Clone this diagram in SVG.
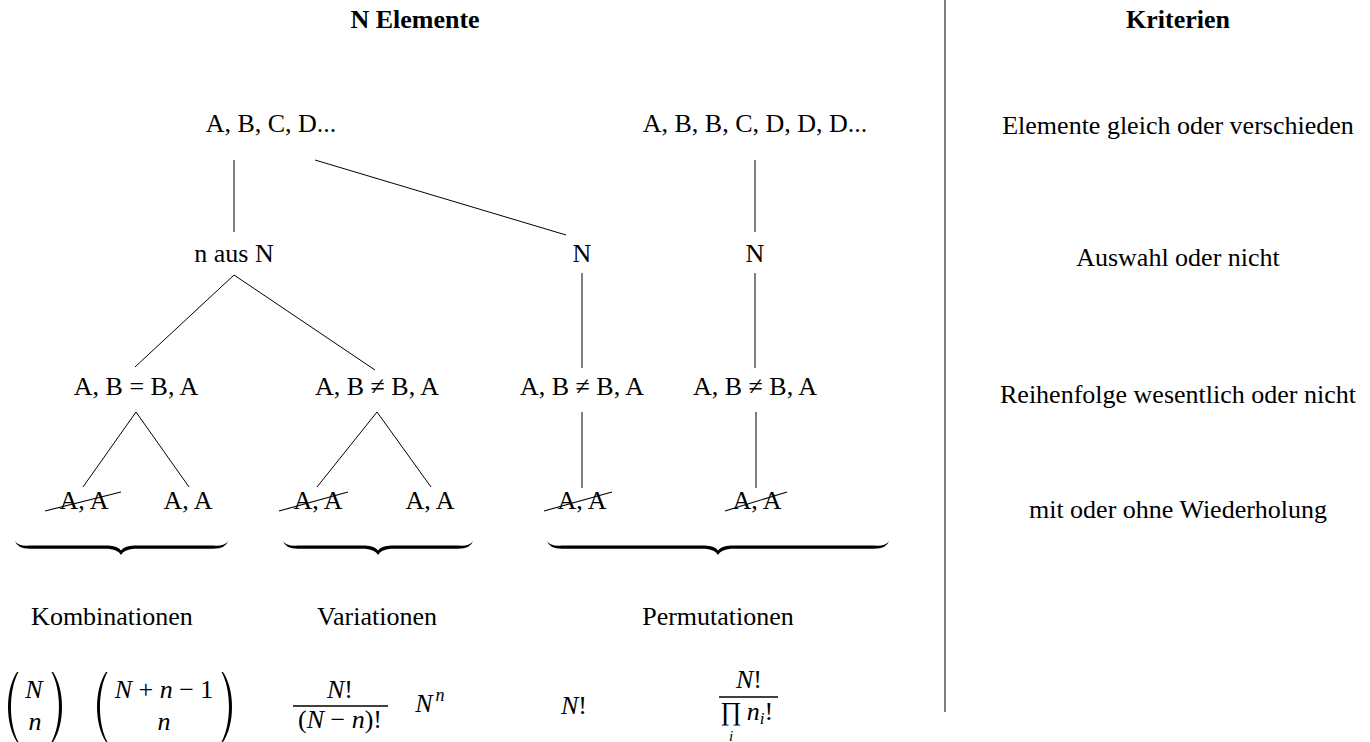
<svg xmlns="http://www.w3.org/2000/svg" width="1370" height="742" viewBox="0 0 1370 742">
<style>
text{font-family:"Liberation Serif","DejaVu Serif",serif;font-size:26px;fill:#000;text-anchor:middle}
.b{font-weight:bold}
.i{font-style:italic}
.m{font-size:26px}
.sup{font-size:18px;font-style:italic}
.sub{font-size:17px;font-style:italic}
line,.ln{stroke:#000;stroke-width:1;fill:none}
.strike{stroke:#000;stroke-width:1.1}
.brace,.paren{fill:#000;stroke:none}
.bar{stroke:#000;stroke-width:1.6}
</style>
<rect width="1370" height="742" fill="#fff"/>
<g id="divider"><line x1="945" y1="0" x2="945" y2="712"/></g>
<g id="titles">
<text class="b" x="415" y="28">N Elemente</text>
<text class="b" x="1178" y="28">Kriterien</text>
</g>
<g id="criteria">
<text x="1178" y="134">Elemente gleich oder verschieden</text>
<text x="1178" y="266">Auswahl oder nicht</text>
<text x="1178" y="403">Reihenfolge wesentlich oder nicht</text>
<text x="1178" y="518">mit oder ohne Wiederholung</text>
</g>
<g id="connectors">
<line x1="234" y1="160" x2="234" y2="232"/>
<line x1="315" y1="160" x2="566" y2="235"/>
<line x1="755" y1="160" x2="755" y2="232"/>
<line x1="234" y1="275" x2="135" y2="367"/>
<line x1="234" y1="275" x2="375" y2="370"/>
<line x1="582" y1="273" x2="582" y2="368"/>
<line x1="755" y1="273" x2="755" y2="368"/>
<line x1="136" y1="412" x2="83" y2="487"/>
<line x1="136" y1="412" x2="189" y2="487"/>
<line x1="377" y1="412" x2="317" y2="487"/>
<line x1="377" y1="412" x2="431" y2="487"/>
<line x1="582" y1="412" x2="582" y2="488"/>
<line x1="756" y1="412" x2="756" y2="488"/>
</g>
<g id="n-root1"><text x="271" y="132">A, B, C, D...</text></g>
<g id="n-root2"><text x="755" y="132">A, B, B, C, D, D, D...</text></g>
<g id="n-naus"><text x="234" y="262">n aus N</text></g>
<g id="n-N1"><text x="582" y="262">N</text></g>
<g id="n-N2"><text x="755" y="262">N</text></g>
<g id="n-eq"><text x="136" y="395">A, B = B, A</text></g>
<g id="n-neq1"><text x="377" y="395">A, B ≠ B, A</text></g>
<g id="n-neq2"><text x="582" y="395">A, B ≠ B, A</text></g>
<g id="n-neq3"><text x="755" y="395">A, B ≠ B, A</text></g>
<g id="n-aa1"><text x="84" y="509">A, A</text><line class="strike" x1="45" y1="511" x2="121" y2="492"/></g>
<g id="n-aa2"><text x="188" y="509">A, A</text></g>
<g id="n-aa3"><text x="318" y="509">A, A</text><line class="strike" x1="279" y1="511" x2="348" y2="492"/></g>
<g id="n-aa4"><text x="430" y="509">A, A</text></g>
<g id="n-aa5"><text x="582" y="509">A, A</text><line class="strike" x1="544" y1="511" x2="612" y2="492"/></g>
<g id="n-aa6"><text x="757" y="509">A, A</text><line class="strike" x1="725" y1="511" x2="787" y2="492"/></g>
<g id="braces">
<path class="brace" d="M15,541 Q17,548.5 30,548.8 L108,548.8 Q118,549.5 121,555 Q124,549.5 134,548.8 L213,548.8 Q226,548.5 228,541 Q225,546.5 213,545.6 L134,545.6 Q124,546 121,550.5 Q118,546 108,545.6 L30,545.6 Q18,546.5 15,541 Z"/>
<path class="brace" d="M283,541 Q285,548.5 298,548.8 L365,548.8 Q375,549.5 378,555 Q381,549.5 391,548.8 L458,548.8 Q471,548.5 473,541 Q470,546.5 458,545.6 L391,545.6 Q381,546 378,550.5 Q375,546 365,545.6 L298,545.6 Q286,546.5 283,541 Z"/>
<path class="brace" d="M547,541 Q549,548.5 562,548.8 L705,548.8 Q715,549.5 718,555 Q721,549.5 731,548.8 L874,548.8 Q887,548.5 889,541 Q886,546.5 874,545.6 L731,545.6 Q721,546 718,550.5 Q715,546 705,545.6 L562,545.6 Q550,546.5 547,541 Z"/>
</g>
<g id="labels">
<text x="112" y="625">Kombinationen</text>
<text x="377" y="625">Variationen</text>
<text x="718" y="625">Permutationen</text>
</g>
<g id="f-binom1">
<path class="paren" d="M17,672 C5,690 5,724 17,742 L18.5,742 C8.5,724 8.5,690 18.5,672 Z"/>
<path class="paren" d="M53,672 C65,690 65,724 53,742 L51.5,742 C61.5,724 61.5,690 51.5,672 Z"/>
<text class="m i" x="34" y="698">N</text>
<text class="m i" x="35" y="730">n</text>
</g>
<g id="f-binom2">
<path class="paren" d="M106,672 C94,690 94,724 106,742 L107.5,742 C97.5,724 97.5,690 107.5,672 Z"/>
<path class="paren" d="M223,672 C235,690 235,724 223,742 L221.5,742 C231.5,724 231.5,690 221.5,672 Z"/>
<text class="m" x="164" y="698"><tspan class="i">N</tspan> + <tspan class="i">n</tspan> − 1</text>
<text class="m i" x="164" y="730">n</text>
</g>
<g id="f-var1">
<text class="m" x="340" y="698"><tspan class="i">N</tspan>!</text>
<line class="bar" x1="293" y1="706" x2="388" y2="706"/>
<text class="m" x="340" y="728">(<tspan class="i">N</tspan> − <tspan class="i">n</tspan>)!</text>
</g>
<g id="f-var2">
<text class="m i" x="424" y="712">N</text>
<text class="sup" x="440" y="701">n</text>
</g>
<g id="f-perm1"><text class="m" x="574" y="714"><tspan class="i">N</tspan>!</text></g>
<g id="f-perm2">
<text class="m" x="749" y="688"><tspan class="i">N</tspan>!</text>
<line class="bar" x1="719" y1="697" x2="778" y2="697"/>
<text x="731" y="720" style="font-size:26px">∏</text>
<text class="m" x="760" y="720"><tspan class="i">n</tspan><tspan class="sub" dy="4">i</tspan><tspan dy="-4">!</tspan></text>
<text class="sub" x="731" y="741" style="font-size:15px">i</text>
</g>
</svg>
